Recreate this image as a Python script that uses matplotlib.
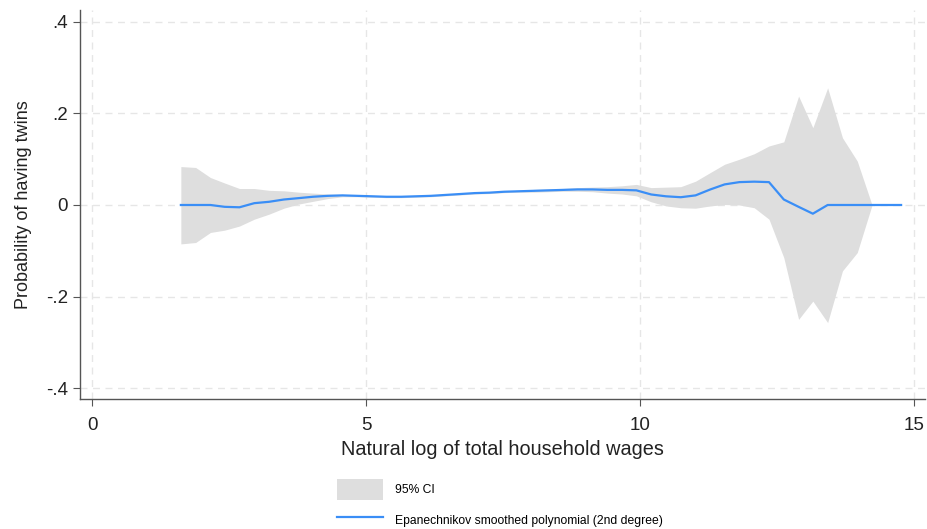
import numpy as np
import matplotlib
matplotlib.use('Agg')
import matplotlib.pyplot as plt
from matplotlib.patches import Patch
from matplotlib.lines import Line2D

plt.rcParams['font.family'] = ['Liberation Sans', 'DejaVu Sans']

# grilla de evaluacion del lpoly (log salario del hogar)
lnwage = [1.62, 1.89, 2.16, 2.42, 2.69, 2.96, 3.23, 3.50, 3.77, 4.03,
          4.30, 4.57, 4.84, 5.11, 5.37, 5.64, 5.91, 6.18, 6.45, 6.72,
          6.98, 7.25, 7.52, 7.79, 8.06, 8.33, 8.59, 8.86, 9.13, 9.40,
          9.67, 9.93, 10.20, 10.47, 10.74, 11.01, 11.28, 11.54, 11.81, 12.08,
          12.35, 12.62, 12.89, 13.15, 13.42, 13.69, 13.96, 14.23, 14.49, 14.76]

prob_twins = [0.000, 0.000, 0.000, -0.004, -0.005, 0.004, 0.007, 0.012, 0.015, 0.018,
              0.020, 0.021, 0.020, 0.019, 0.018, 0.018, 0.019, 0.020, 0.022, 0.024,
              0.026, 0.027, 0.029, 0.030, 0.031, 0.032, 0.033, 0.034, 0.034, 0.033,
              0.033, 0.032, 0.023, 0.019, 0.017, 0.021, 0.034, 0.045, 0.050, 0.051,
              0.050, 0.012, -0.004, -0.019, 0.000, 0.000, 0.000, 0.000, 0.000, 0.000]

ci_hi = [0.084, 0.082, 0.060, 0.048, 0.036, 0.036, 0.032, 0.031, 0.028, 0.026,
         0.024, 0.023, 0.022, 0.021, 0.020, 0.020, 0.021, 0.022, 0.024, 0.026,
         0.028, 0.029, 0.031, 0.032, 0.034, 0.035, 0.036, 0.038, 0.039, 0.040,
         0.042, 0.045, 0.038, 0.039, 0.040, 0.052, 0.071, 0.089, 0.100, 0.112,
         0.129, 0.138, 0.238, 0.169, 0.256, 0.147, 0.096, 0.000, 0.000, 0.000]

ci_lo = [-0.085, -0.082, -0.060, -0.055, -0.046, -0.031, -0.020, -0.007, 0.002, 0.008,
         0.014, 0.018, 0.018, 0.017, 0.016, 0.016, 0.017, 0.018, 0.020, 0.022,
         0.024, 0.025, 0.027, 0.028, 0.028, 0.029, 0.030, 0.030, 0.029, 0.026,
         0.024, 0.020, 0.007, -0.002, -0.006, -0.007, -0.002, 0.001, 0.000, -0.006,
         -0.031, -0.115, -0.250, -0.210, -0.257, -0.144, -0.104, 0.000, 0.000, 0.000]

xticks = [0, 5, 10, 15]
yticks = [-0.4, -0.2, 0, 0.2, 0.4]
ytick_labels = ['-.4', '-.2', '0', '.2', '.4']

ci_color = '#dedede'
line_color = '#3a8ef6'

fig = plt.figure(figsize=(9.28, 5.29), dpi=100)
ax = fig.add_axes([0.0862, 0.2457, 0.9108, 0.7353])

# la banda solo llega hasta donde hay datos (el ultimo tramo no tiene IC)
x = np.array(lnwage)
hi = np.array(ci_hi)
lo = np.array(ci_lo)
m = x <= 14.25
ax.fill_between(x[m], lo[m], hi[m], color=ci_color, linewidth=0)
ax.plot(x, prob_twins, color=line_color, linewidth=1.6)

ax.set_xlim(-0.22, 15.2)
ax.set_ylim(-0.424, 0.426)
ax.set_xticks(xticks)
ax.set_yticks(yticks)
ax.set_yticklabels(ytick_labels)
ax.grid(True, color='#e6e6e6', linestyle=(0, (5, 4)), linewidth=1.0)
ax.set_axisbelow(True)

for s in ['top', 'right']:
    ax.spines[s].set_visible(False)
for s in ['left', 'bottom']:
    ax.spines[s].set_color('#555555')
    ax.spines[s].set_linewidth(1.0)
ax.tick_params(direction='out', length=5, color='#555555', labelsize=13.5, labelcolor='#222222')
ax.tick_params(axis='x', pad=8)

ax.set_xlabel('Natural log of total household wages', fontsize=14.3, color='#222222', labelpad=4)
ax.set_ylabel('Probability of having twins', fontsize=13, color='#222222', labelpad=10)

handles = [Patch(facecolor=ci_color, edgecolor='none'),
           Line2D([], [], color=line_color, linewidth=1.6)]
labels = ['95% CI', 'Epanechnikov smoothed polynomial (2nd degree)']
fig.legend(handles, labels, loc='upper left', bbox_to_anchor=(337/928, 1 - 479/529),
           frameon=False, fontsize=8.7, handlelength=3.8, handleheight=2.3,
           handletextpad=1.0, labelspacing=0.8, borderpad=0, borderaxespad=0)

fig.savefig('out.png', dpi=100)
